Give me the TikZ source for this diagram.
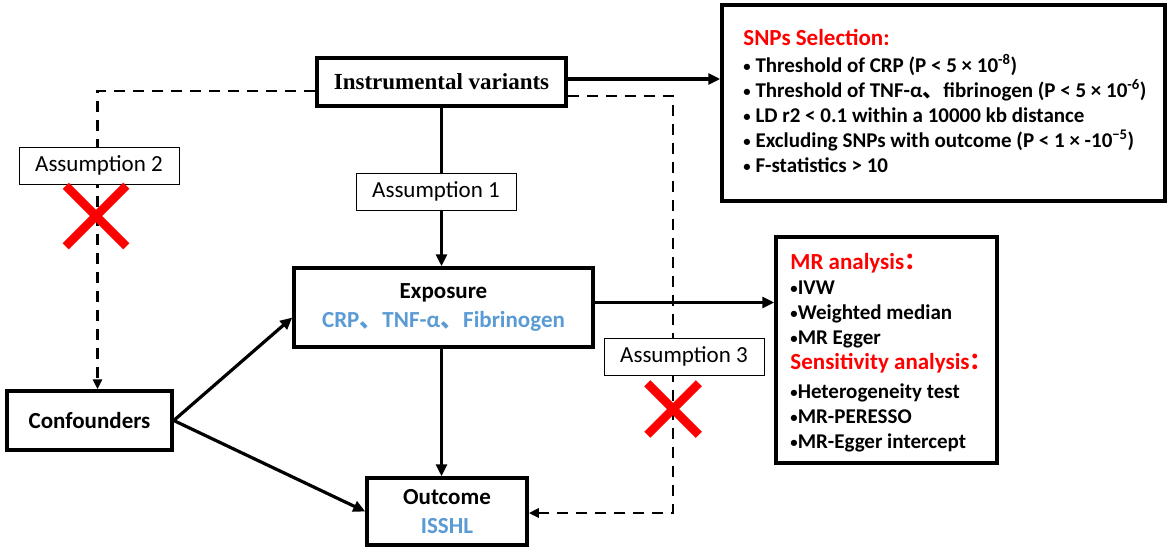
\documentclass[tikz,border=0pt]{standalone}
\usepackage{fontspec}
\setmainfont{Carlito}
\newfontfamily\ivfont{Liberation Serif}
\newfontfamily\cjk{Noto Sans CJK SC}
\usetikzlibrary{arrows.meta,shapes.misc}
\definecolor{expblue}{HTML}{5B9BD5}
\newcommand\dotmark{\raisebox{1.5pt}{\scalebox{0.7}{•}}}

\tikzset{
  mainbox/.style={draw, line width=3.5pt, fill=white, inner sep=0pt, align=center,
    font=\bfseries\fontsize{23}{28.5}\selectfont},
  assume/.style={draw, line width=1pt, fill=white, inner sep=0pt,
    minimum width=160pt, minimum height=37pt, font=\fontsize{23}{27}\selectfont},
  listbox/.style={draw, line width=3.5pt, inner sep=0pt},
  listtext/.style={anchor=west, inner sep=0pt, align=left,
    font=\bfseries\fontsize{21}{25}\selectfont},
  solidarrow/.style={line width=3.2pt, -{Triangle[length=12pt,width=11pt]}},
  dasharrow/.style={line width=2.6pt, dash pattern=on 11pt off 8pt,
    -{Triangle[length=10pt,width=9pt]}},
  nogo/.style={cross out, draw=red, line width=8.5pt, inner sep=0pt}
}

\begin{document}
\begin{tikzpicture}[x=1pt, y=-1pt]
    \useasboundingbox (0,0) rectangle (1170,551);
    % Main boxes
    \node[mainbox, font=\ivfont\bfseries\fontsize{23}{28}\selectfont,
      minimum width=249pt, minimum height=48pt] (iv) at (441.5,82) {Instrumental variants};
    \node[mainbox, minimum width=299pt, minimum height=79pt] (expo) at (443.5,307.5)
      {Exposure\\{\color{expblue}CRP{\cjk 、}TNF-α{\cjk 、}Fibrinogen}};
    \node[mainbox, minimum width=160pt, minimum height=67pt] (outc) at (447,511.5)
      {Outcome\\{\color{expblue}ISSHL}};
    \node[mainbox, minimum width=165pt, minimum height=59pt] (conf) at (89.5,420.5) {Confounders};
    % Side boxes
    \node[listbox, minimum width=443pt, minimum height=196pt] (snps) at (943.5,103) {};
    \node[listtext] (snpstext) at ([xshift=23pt,yshift=2pt]snps.west)
      {{\color{red}\fontsize{23}{27}\selectfont SNPs Selection:}\\[2pt]
       \dotmark{} Threshold of CRP (P < 5 × 10\textsuperscript{-8})\\
       \dotmark{} Threshold of TNF-α{\cjk 、}fibrinogen (P < 5 × 10\textsuperscript{-6})\\
       \dotmark{} LD r2 < 0.1 within a 10000 kb distance\\
       \dotmark{} Excluding SNPs with outcome (P < 1 × -10\textsuperscript{−5})\\
       \dotmark{} F-statistics > 10};
    \node[listbox, minimum width=221pt, minimum height=226pt] (mr) at (886.5,350) {};
    \node[listtext] (mrtext) at ([xshift=16pt,yshift=-3pt]mr.west)
      {{\color{red}\fontsize{23}{27}\selectfont MR analysis{\cjk ：}}\\
       \dotmark IVW\\
       \dotmark Weighted median\\
       \dotmark MR Egger\\
       {\color{red}\fontsize{23}{27}\selectfont Sensitivity analysis{\cjk ：}}\\[4pt]
       \dotmark Heterogeneity test\\
       \dotmark MR-PERESSO\\
       \dotmark MR-Egger intercept};
    % Connectors
    \draw[solidarrow] ([yshift=3pt]iv.east) -- ([yshift=3pt]iv.east -| snps.west);
    \draw[solidarrow] ([yshift=5pt]expo.east) -- ([yshift=5pt]expo.east -| mr.west);
    \draw[solidarrow] (iv.south) -- (iv.south |- expo.north);
    \draw[solidarrow] (iv.south |- expo.south) -- (iv.south |- outc.north);
    \draw[solidarrow] (conf.east) -- ([yshift=-10pt]expo.west);
    \draw[solidarrow] (conf.east) -- (outc.west);
    \draw[dasharrow] ([yshift=-9pt]iv.west) -| ([xshift=8pt]conf.north);
    \coordinate (turn) at (673,513);
    \draw[dasharrow] ([yshift=-14pt]iv.east) -| (turn) -- (turn -| outc.east);
    % Assumptions
    \node[assume] (a1) at (436,191.5) {Assumption 1};
    \node[assume] (a2) at (99,165.5) {Assumption 2};
    \node[assume] (a3) at (684,356.5) {Assumption 3};
    \node[nogo, minimum size=52pt] (x2) at (96,216) {};
    \node[nogo, minimum size=43pt] (x3) at (673,409) {};
\end{tikzpicture}
\end{document}
